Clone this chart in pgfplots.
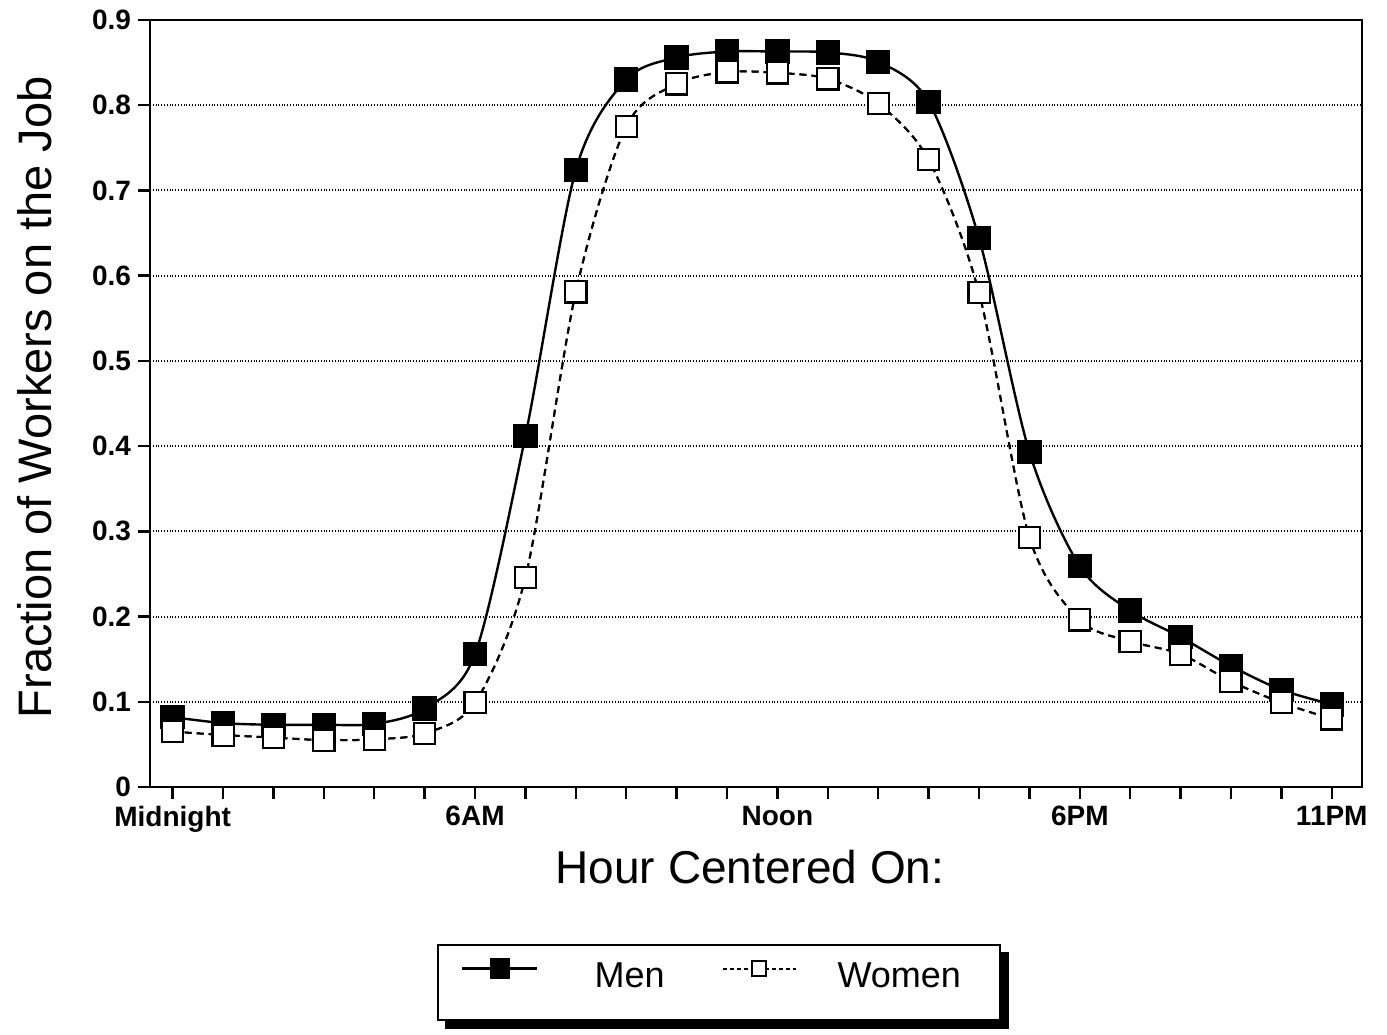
\documentclass[border=0pt]{standalone}
\usepackage{pgfplots}
\pgfplotsset{compat=1.18}
\usepackage{fontspec}
\setmainfont{Liberation Sans}
\pgfplotsset{
  menleg/.style={legend image code/.code={
    \path (0pt,0pt) -- (0pt,0pt);
    \draw[##1, mark size=4.5pt, mark repeat=2, mark phase=2] plot coordinates {(11.5pt,7pt) (30.25pt,7pt) (49pt,7pt)};
  }},
  womenleg/.style={legend image code/.code={
    \draw[##1, mark size=3.6pt, mark repeat=2, mark phase=2, dash pattern=on 2pt off 1.5pt] plot coordinates {(0pt,7pt) (18.25pt,7pt) (36.5pt,7pt)};
  }},
}
\begin{document}
\begin{tikzpicture}
\useasboundingbox (-75pt,-123.5pt) rectangle (618.5pt,393.5pt);
\begin{axis}[
  scale only axis, width=606pt, height=383.5pt,
  xmin=-0.45, xmax=23.6, ymin=0, ymax=0.9,
  xtick={0,...,23},
  xticklabels={Midnight,,,,,,6AM,,,,,,Noon,,,,,,6PM,,,,,11PM},
  ytick={0,0.1,0.2,0.3,0.4,0.5,0.6,0.7,0.8,0.9},
  yticklabels={0,0.1,0.2,0.3,0.4,0.5,0.6,0.7,0.8,0.9},
  tick align=outside, major tick length=6pt,
  xtick pos=lower, ytick pos=left,
  ymajorgrids, major grid style={densely dotted, line width=1pt, black},
  axis line style={line width=1.4pt},
  every tick/.style={black, line width=1.2pt},
  tick label style={font=\fontsize{14}{16}\selectfont\bfseries},
  xlabel={Hour Centered On:},
  ylabel={Fraction of Workers on the Job},
  label style={font=\fontsize{23}{26}\selectfont},
  xlabel style={at={(axis description cs:0.495,0)}, anchor=center, yshift=-40pt},
  ylabel style={at={(axis description cs:-0.0949,0.508)}, anchor=center, font=\fontsize{23.5}{26}\selectfont},
  legend columns=2,
  legend style={name=leg, at={(0.4695,-0.255)}, anchor=center, draw=black, line width=1pt, fill=white,
    inner sep=0pt, font=\fontsize{18}{21}\selectfont,
    nodes={inner xsep=0pt, inner ysep=0pt, text height=21pt, text depth=16.5pt}},
]
\addplot[black, line width=1.2pt, smooth, mark=square*, mark size=5.5pt, mark options={solid, fill=black}, menleg] coordinates {
(0,0.082)(1,0.075)(2,0.073)(3,0.073)(4,0.074)(5,0.092)(6,0.156)(7,0.412)(8,0.724)(9,0.830)(10,0.856)(11,0.863)(12,0.863)(13,0.862)(14,0.851)(15,0.804)(16,0.644)(17,0.393)(18,0.259)(19,0.207)(20,0.176)(21,0.142)(22,0.114)(23,0.097)
};
\addlegendentry{\rule{28pt}{0pt}Men\rule{28.5pt}{0pt}}
\addplot[black, line width=1pt, dash pattern=on 3.5pt off 2.5pt, smooth, mark=square*, mark size=5.3pt, mark options={solid, fill=white, line width=1.1pt}, womenleg] coordinates {
(0,0.065)(1,0.061)(2,0.058)(3,0.055)(4,0.056)(5,0.063)(6,0.099)(7,0.246)(8,0.581)(9,0.775)(10,0.825)(11,0.839)(12,0.838)(13,0.831)(14,0.802)(15,0.736)(16,0.580)(17,0.293)(18,0.196)(19,0.171)(20,0.156)(21,0.124)(22,0.099)(23,0.080)
};
\addlegendentry{\rule{20.5pt}{0pt}Women\rule{19.5pt}{0pt}}
\addplot[black, line width=1pt, dash pattern=on 3.5pt off 2.5pt, smooth, forget plot] coordinates {
(0,0.065)(1,0.061)(2,0.058)(3,0.055)(4,0.056)(5,0.063)(6,0.099)(7,0.246)(8,0.581)(9,0.775)(10,0.825)(11,0.839)(12,0.838)(13,0.831)(14,0.802)(15,0.736)(16,0.580)(17,0.293)(18,0.196)(19,0.171)(20,0.156)(21,0.124)(22,0.099)(23,0.080)
};
\end{axis}
\fill[black] ([xshift=4pt,yshift=-4pt]leg.south west) rectangle ([xshift=4pt]leg.south east);
\fill[black] ([yshift=-4pt]leg.south east) rectangle ([xshift=4pt,yshift=-4pt]leg.north east);
\end{tikzpicture}
\end{document}
